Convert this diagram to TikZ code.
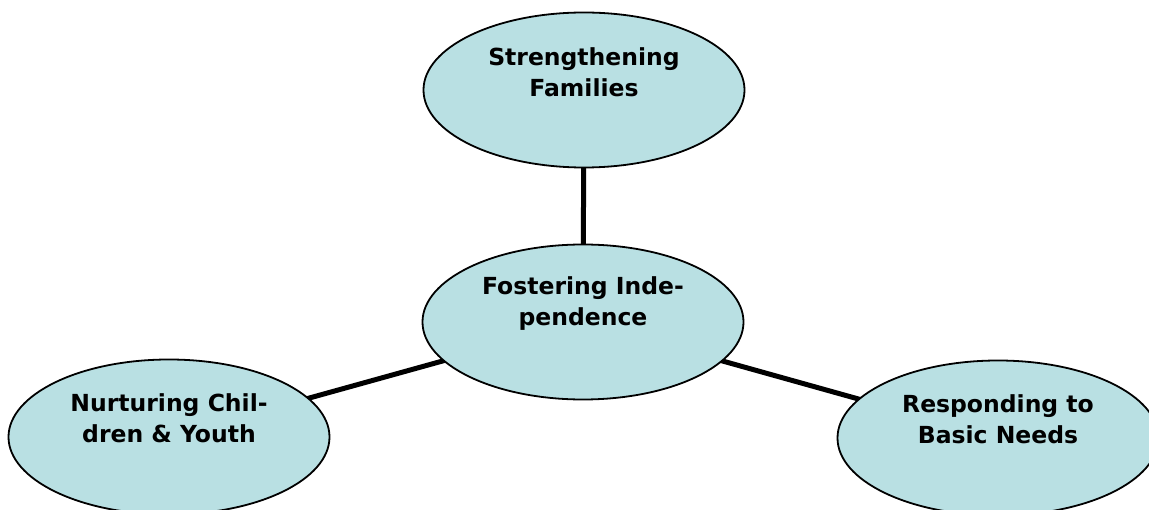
\documentclass[tikz,border=0pt]{standalone}
\usepackage{fontspec}
\setmainfont{DejaVu Sans}
\usetikzlibrary{shapes.geometric}
\definecolor{bubble}{RGB}{185,224,227}
\tikzset{
  bub/.style={ellipse, draw=black, line width=1.8pt, fill=bubble, minimum width=321pt, minimum height=155pt, inner sep=0pt},
  lbl/.style={align=center, font=\bfseries\fontsize{23.5}{31}\selectfont, text=black},
  link/.style={line width=5pt, black}
}
\begin{document}
\begin{tikzpicture}[x=1pt,y=-1pt]
\useasboundingbox (0,0) rectangle (1149,510);
\clip (0,0) rectangle (1149,510);
\fill[white] (0,0) rectangle (1149,510);
\coordinate (cT) at (584,90);
\coordinate (cC) at (583,322);
\coordinate (cL) at (169,437);
\coordinate (cR) at (998,438);
\draw[link] (cC) -- (cT);
\draw[link] (cC) -- (cL);
\draw[link] (cC) -- (cR);
\node[bub] (top) at (cT) {};
\node[bub] (mid) at (cC) {};
\node[bub] (left) at (cL) {};
\node[bub] (right) at (cR) {};
\node[lbl] (ttop) at ([yshift=18pt]top.center) {Strengthening\\Families};
\node[lbl] (tmid) at ([yshift=18pt]mid.center) {Fostering Inde-\\pendence};
\node[lbl] (tleft) at ([yshift=19pt]left.center) {Nurturing Chil-\\dren \& Youth};
\node[lbl] (tright) at ([yshift=19pt]right.center) {Responding to\\Basic Needs};
\end{tikzpicture}
\end{document}
